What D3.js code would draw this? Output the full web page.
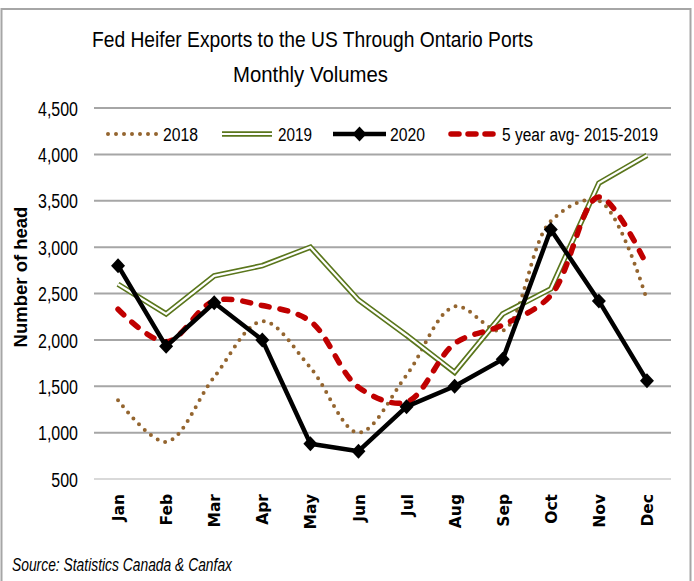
<!DOCTYPE html>
<html>
<head>
<meta charset="utf-8">
<script src="https://cdn.jsdelivr.net/npm/d3@7"></script>
<style>
  body { margin: 0; background: #fff; }
  svg { display: block; }
  .narrow { font-family: "Liberation Sans Narrow", "Arial Narrow", "Liberation Sans", sans-serif; }
</style>
</head>
<body>
<div id="chart"></div>
<script>
// values
var months = ["Jan","Feb","Mar","Apr","May","Jun","Jul","Aug","Sep","Oct","Nov","Dec"];
var y2018 = [1350, 900, 1600, 2200, 1700, 1000, 1620, 2360, 2100, 3280, 3500, 2430];
var y2019 = [2600, 2280, 2690, 2800, 3000, 2430, 2050, 1650, 2280, 2550, 3690, 3990];
var y2020 = [2800, 1930, 2400, 2000, 880, 800, 1280, 1500, 1790, 3190, 2420, 1560];
var avg5  = [2330, 1980, 2420, 2370, 2200, 1490, 1330, 1960, 2160, 2480, 3540, 2800];
var yTicks = [500, 1000, 1500, 2000, 2500, 3000, 3500, 4000, 4500];

var width = 694, height = 581;

// squeeze text to a given width (the original uses a narrow font)
function fit(sel, w) {
  sel.attr("textLength", w).attr("lengthAdjust", "spacingAndGlyphs");
}

var svg = d3.select("#chart").append("svg")
  .attr("width", width)
  .attr("height", height);

// outer frame (no bottom edge visible)
svg.append("path")
  .attr("d", "M1.5,581 V9 H690.5 V581")
  .style("fill", "none")
  .style("stroke", "#a6a6a6")
  .style("stroke-width", 2);

var x = d3.scalePoint()
  .domain(months)
  .range([94, 671])
  .padding(0.5);

var y = d3.scaleLinear()
  .domain([500, 4500])
  .range([479, 108]);

// gridlines
svg.append("g")
  .selectAll("line")
  .data(yTicks)
  .enter()
  .append("line")
  .attr("x1", 94)
  .attr("x2", 671)
  .attr("y1", function(d){ return y(d); })
  .attr("y2", function(d){ return y(d); })
  .style("stroke", function(d){ return d === 500 ? "#d9d9d9" : "#a6a6a6"; })
  .style("stroke-width", 2);

// y axis labels
var yAxis = d3.axisLeft(y)
  .tickValues(yTicks)
  .tickFormat(d3.format(","))
  .tickSize(0)
  .tickPadding(0);

var yt = svg.append("g")
  .attr("transform", "translate(78,0)")
  .call(yAxis)
  .call(function(g){ g.select(".domain").remove(); })
  .selectAll("text")
  .attr("class", "narrow")
  .attr("dy", "0.36em")
  .style("font-size", "20px")
  .style("fill", "#000");
// scale so "4,500" is about 40px wide
var wMax = d3.max(yt.nodes(), function(n){ return n.getComputedTextLength(); });
yt.each(function(){
  var n = this;
  d3.select(n).call(fit, n.getComputedTextLength() * 40 / wMax);
});

// month labels
var xAxis = d3.axisBottom(x).tickSize(0).tickPadding(0);
svg.append("g")
  .attr("transform", "translate(0,494)")
  .call(xAxis)
  .call(function(g){ g.select(".domain").remove(); })
  .selectAll("text")
  .attr("transform", "rotate(-90)")
  .attr("x", 0)
  .attr("y", 0)
  .attr("dy", "0.36em")
  .style("text-anchor", "end")
  .style("font-family", "'DejaVu Sans', sans-serif")
  .style("font-weight", "bold")
  .style("font-size", "15.5px")
  .style("fill", "#000");

// axis title
svg.append("text")
  .attr("transform", "translate(27,277) rotate(-90)")
  .style("text-anchor", "middle")
  .style("font-family", "'Liberation Sans', Arial, sans-serif")
  .style("font-weight", "bold")
  .style("font-size", "18.5px")
  .text("Number of head");

// chart title
svg.append("text")
  .attr("class", "narrow")
  .attr("x", 92).attr("y", 47)
  .style("font-size", "21.5px")
  .text("Fed Heifer Exports to the US Through Ontario Ports")
  .call(fit, 441);
svg.append("text")
  .attr("class", "narrow")
  .attr("x", 233).attr("y", 82)
  .style("font-size", "21.5px")
  .text("Monthly Volumes")
  .call(fit, 155);

// lines
var straight = d3.line()
  .x(function(d, i){ return x(months[i]); })
  .y(function(d){ return y(d); });

var smooth = d3.line()
  .curve(d3.curveCatmullRom.alpha(0.5))
  .x(function(d, i){ return x(months[i]); })
  .y(function(d){ return y(d); });

var brown = "#94652f", green = "#5a761c", red = "#c00000";

// 2018 dotted
svg.append("path")
  .datum(y2018)
  .attr("d", smooth)
  .style("fill", "none")
  .style("stroke", brown)
  .style("stroke-width", 4)
  .style("stroke-linecap", "round")
  .style("stroke-dasharray", "0,8");

// 2019 double line
svg.append("path")
  .datum(y2019)
  .attr("d", straight)
  .style("fill", "none")
  .style("stroke", green)
  .style("stroke-width", 5.5);
svg.append("path")
  .datum(y2019)
  .attr("d", straight)
  .style("fill", "none")
  .style("stroke", "#fff")
  .style("stroke-width", 2.2);

// 5 year avg dashed
svg.append("path")
  .datum(avg5)
  .attr("d", smooth)
  .style("fill", "none")
  .style("stroke", red)
  .style("stroke-width", 5.5)
  .style("stroke-linecap", "round")
  .style("stroke-dasharray", "8,11");

// 2020 black with diamonds
svg.append("path")
  .datum(y2020)
  .attr("d", straight)
  .style("fill", "none")
  .style("stroke", "#000")
  .style("stroke-width", 4.5)
  .style("stroke-linejoin", "round");

var diamondType = {
  draw: function(ctx, size) {
    var w = 7, h = 7.5;
    ctx.moveTo(0, -h);
    ctx.lineTo(w, 0);
    ctx.lineTo(0, h);
    ctx.lineTo(-w, 0);
    ctx.closePath();
  }
};
var diamond = d3.symbol().type(diamondType);
svg.selectAll(".pt")
  .data(y2020)
  .enter()
  .append("path")
  .attr("class", "pt")
  .attr("d", diamond)
  .attr("transform", function(d, i){ return "translate(" + x(months[i]) + "," + y(d) + ")"; })
  .style("fill", "#000");

// legend
var legY = 134;
var leg = svg.append("g");
leg.append("line").attr("x1", 108).attr("x2", 157).attr("y1", legY).attr("y2", legY)
  .style("stroke", brown).style("stroke-width", 4)
  .style("stroke-linecap", "round").style("stroke-dasharray", "0,8");
leg.append("line").attr("x1", 222).attr("x2", 272).attr("y1", legY).attr("y2", legY)
  .style("stroke", green).style("stroke-width", 5.5);
leg.append("line").attr("x1", 222).attr("x2", 272).attr("y1", legY).attr("y2", legY)
  .style("stroke", "#fff").style("stroke-width", 2.2);
leg.append("line").attr("x1", 333).attr("x2", 386).attr("y1", legY).attr("y2", legY)
  .style("stroke", "#000").style("stroke-width", 4.5);
leg.append("path").attr("d", diamond)
  .attr("transform", "translate(359.5," + legY + ")");
leg.append("line").attr("x1", 451).attr("x2", 495).attr("y1", legY).attr("y2", legY)
  .style("stroke", red).style("stroke-width", 5.5)
  .style("stroke-linecap", "round").style("stroke-dasharray", "8,9");

var legText = [["2018", 163, 35], ["2019", 278, 34], ["2020", 390, 35], ["5 year avg- 2015-2019", 502, 156]];
leg.selectAll("text")
  .data(legText)
  .enter()
  .append("text")
  .attr("class", "narrow")
  .attr("x", function(d){ return d[1]; })
  .attr("y", legY + 7)
  .attr("textLength", function(d){ return d[2]; })
  .attr("lengthAdjust", "spacingAndGlyphs")
  .style("font-size", "18px")
  .text(function(d){ return d[0]; });

// source note
svg.append("text")
  .attr("class", "narrow")
  .attr("x", 12)
  .attr("y", 571)
  .style("font-style", "italic")
  .style("font-size", "18px")
  .text("Source: Statistics Canada & Canfax")
  .call(fit, 220);
</script>
</body>
</html>
